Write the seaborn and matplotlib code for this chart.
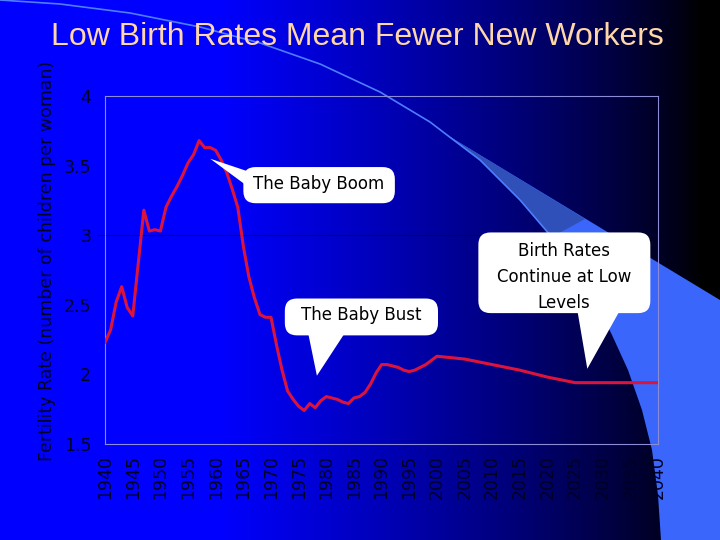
import numpy as np
import pandas as pd
import matplotlib.pyplot as plt
import seaborn as sns
from matplotlib.patches import Polygon, FancyBboxPatch

# fertility rate (children per woman)
years = [1940, 1941, 1942, 1943, 1944, 1945, 1946, 1947, 1948, 1949,
         1950, 1951, 1952, 1953, 1954, 1955, 1956, 1957, 1958, 1959,
         1960, 1961, 1962, 1963, 1964, 1965, 1966, 1967, 1968, 1969,
         1970, 1971, 1972, 1973, 1974, 1975, 1976, 1977, 1978, 1979,
         1980, 1981, 1982, 1983, 1984, 1985, 1986, 1987, 1988, 1989,
         1990, 1991, 1992, 1993, 1994, 1995, 1996, 1997, 1998, 1999,
         2000, 2005, 2010, 2015, 2020, 2025, 2030, 2035, 2040]
fertility = [2.23, 2.32, 2.52, 2.63, 2.48, 2.42, 2.80, 3.18, 3.03, 3.04,
             3.03, 3.20, 3.28, 3.35, 3.43, 3.52, 3.58, 3.68, 3.63, 3.63,
             3.61, 3.54, 3.45, 3.33, 3.20, 2.92, 2.70, 2.55, 2.43, 2.41,
             2.41, 2.21, 2.03, 1.88, 1.82, 1.77, 1.74, 1.79, 1.76, 1.81,
             1.84, 1.83, 1.82, 1.80, 1.79, 1.83, 1.84, 1.87, 1.93, 2.01,
             2.07, 2.07, 2.06, 2.05, 2.03, 2.02, 2.03, 2.05, 2.07, 2.10,
             2.13, 2.11, 2.07, 2.03, 1.98, 1.94, 1.94, 1.94, 1.94]
x_ticks = list(range(1940, 2041, 5))
y_ticks = [1.5, 2, 2.5, 3, 3.5, 4]
y_tick_labels = ["1.5", "2", "2.5", "3", "3.5", "4"]

title = "Low Birth Rates Mean Fewer New Workers"
y_label = "Fertility Rate (number of children per woman)"
boom_text = "The Baby Boom"
bust_text = "The Baby Bust"
low_text = "Birth Rates\nContinue at Low\nLevels"

df = pd.DataFrame({"year": years, "rate": fertility})

sns.set_theme(style="white")
plt.rcParams['font.family'] = ['DejaVu Sans']

fig = plt.figure(figsize=(7.2, 5.4), dpi=100)

# slide background: blue -> black gradient with a light wedge on the right
bg = fig.add_axes([0, 0, 1, 1], zorder=-10)
xs = np.arange(720)
b = np.clip((700 - xs) / (700 - 220), 0, 1) ** 0.8
img = np.zeros((1, 720, 3))
img[0, :, 2] = b
bg.imshow(img, extent=[0, 720, 540, 0], aspect='auto')
arc = [(0, 0), (60, 4), (130, 13), (200, 27), (260, 43), (320, 64), (380, 92),
       (430, 122), (447, 135), (480, 160), (520, 200), (550, 235), (575, 268),
       (595, 300), (612, 335), (628, 370), (642, 410), (652, 450), (658, 495),
       (661, 540)]
lower = arc[8:]
wedge = [(447, 135), (720, 300), (720, 540)] + lower[::-1]
bg.add_patch(Polygon(wedge, closed=True, fc='#3a66fb', ec='none'))
bg.add_patch(Polygon([(447, 135), (585, 219), (552, 237)] + lower[:4][::-1],
                     closed=True, fc='#2f50b8', ec='none'))
bg.plot([p[0] for p in arc[:12]], [p[1] for p in arc[:12]], color='#4f7dff', lw=1.2)
bg.set_xlim(0, 720)
bg.set_ylim(540, 0)
bg.axis('off')

ax = fig.add_axes([0.146, 0.178, 0.768, 0.644])
ax.set_facecolor('none')
ax.axhline(3, color='#00003a', lw=0.8, zorder=1)
ax.plot([1938.6, 1940], [3, 3], color='#00003a', lw=0.8, clip_on=False)
sns.lineplot(data=df, x="year", y="rate", ax=ax, color='#dc143c', linewidth=2.2, zorder=3)

ax.set_xlim(1940, 2040)
ax.set_ylim(1.5, 4)
ax.set_xticks(x_ticks)
ax.set_xticklabels([str(t) for t in x_ticks], rotation=90)
ax.set_yticks(y_ticks)
ax.set_yticklabels(y_tick_labels)
ax.tick_params(axis='both', length=0, colors='#000024', labelsize=12.5)
ax.tick_params(axis='y', pad=10)
ax.tick_params(axis='x', pad=8)
ax.set_xlabel("")
ax.set_ylabel(y_label, fontsize=12.5, color='#000024')
ax.yaxis.set_label_coords(-0.089, 0.526)
for s in ax.spines.values():
    s.set_color('#8c8cd6')
    s.set_linewidth(0.8)

fig.text(0.497, 0.932, title, ha='center', va='center', fontsize=23,
         color='#ffd6a8', family=['Liberation Sans', 'DejaVu Sans'])

# speech-bubble callouts (data coordinates)
asp = (348 / 2.5) / (553 / 100)


def bubble(x0, x1, y0, y1, tail, text, tx, ty):
    ax.add_patch(Polygon(tail, closed=True, fc='white', ec='none', zorder=5))
    ax.add_patch(FancyBboxPatch((x0, y0), x1 - x0, y1 - y0,
                                boxstyle="round,pad=0,rounding_size=2.2",
                                mutation_aspect=1 / asp, fc='white', ec='none', zorder=5))
    ax.text(tx, ty, text, ha='center', va='center', fontsize=12, color='black',
            zorder=6, linespacing=1.6)


bubble(1965.0, 1992.4, 3.23, 3.49,
       [(1966.5, 3.45), (1966.5, 3.33), (1959.0, 3.55)],
       boom_text, 1978.7, 3.37)
bubble(1972.5, 2000.2, 2.28, 2.545,
       [(1976.7, 2.30), (1983.4, 2.30), (1978.3, 1.99)],
       bust_text, 1986.3, 2.43)
bubble(2007.5, 2038.6, 2.44, 3.02,
       [(2025.4, 2.46), (2033.1, 2.46), (2027.2, 2.04)],
       low_text, 2023.0, 2.70)

fig.savefig("out.png", dpi=100)
